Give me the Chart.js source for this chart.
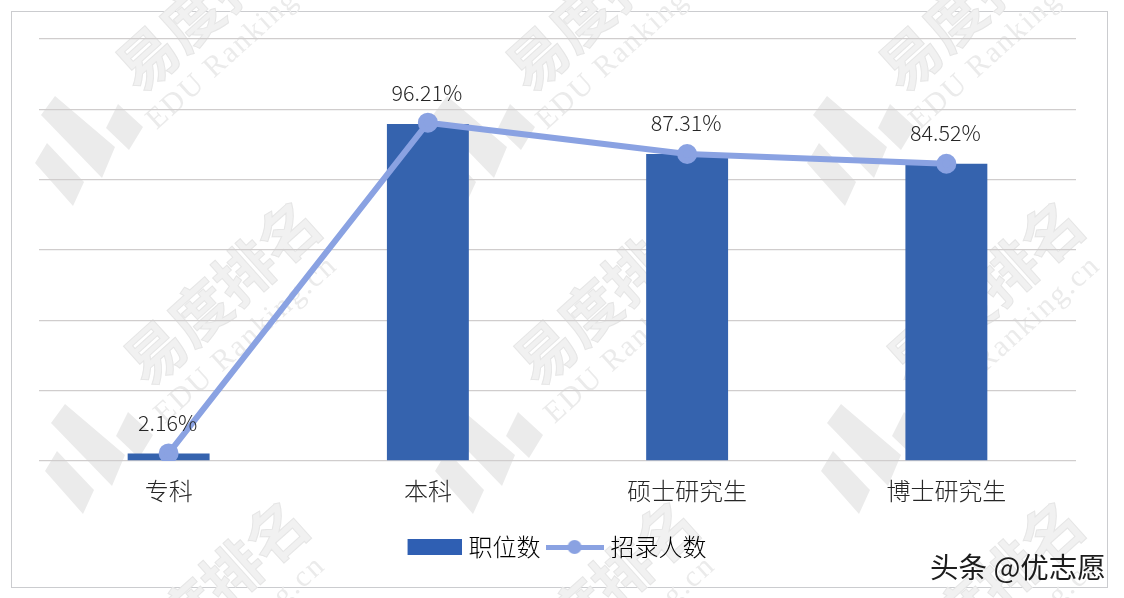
<!DOCTYPE html>
<html>
<head>
<meta charset="utf-8">
<script src="https://cdn.jsdelivr.net/npm/chart.js@4"></script>
<style>
    html, body { margin: 0; padding: 0; background: #fff; overflow: hidden; }
    #wrap { position: relative; width: 1124px; height: 598px; }
    #frame { position: absolute; left: 11px; top: 11px; width: 1095px; height: 575px; border: 1px solid #cbcccf; }
    #chart { position: absolute; left: 0; top: 0; }
    #credit { position: absolute; left: 930px; top: 545px; font: 28.5px "Noto Sans CJK SC", sans-serif; color: #1c1c1c; white-space: nowrap; }
</style>
</head>
<body>
<div id="wrap">
    <div id="frame"></div>
    <canvas id="chart" width="1124" height="598"></canvas>
    <div id="credit">头条 @优志愿</div>
</div>
<script>
const categories = ['专科', '本科', '硕士研究生', '博士研究生'];
const postCounts = [2.1, 95.8, 87.3, 84.5];
const hireRates  = [2.16, 96.21, 87.31, 84.52];
const seriesNames = ['职位数', '招录人数'];

const FONT = '"Noto Sans CJK SC", "Noto Sans", sans-serif';
const BAR_COLOR = '#3563ae';
const LINE_COLOR = '#8aa2e2';

// background watermark tiles
const logoSpots = [[90, 150], [482, 150], [862, 150], [100, 458], [490, 458], [876, 458]];
const nameSpots = [[214, -2], [604, -2], [977, -2], [222, 292], [612, 292], [985, 292], [210, 592], [600, 592], [985, 592]];

function legendSwatch(kind) {
    const c = document.createElement('canvas');
    c.width = 58;
    c.height = 20;
    const ctx = c.getContext('2d');
    if (kind === 'bar') {
        ctx.fillStyle = '#2f5fb3';
        ctx.fillRect(4, 2, 54, 16);
    } else {
        ctx.fillStyle = LINE_COLOR;
        ctx.fillRect(0, 8, 58, 5);
        ctx.beginPath();
        ctx.arc(29, 10, 7, 0, Math.PI * 2);
        ctx.fill();
    }
    return c;
}

const watermarkPlugin = {
    id: 'watermark',
    beforeDraw(chart) {
        const ctx = chart.ctx;
        ctx.save();
        ctx.fillStyle = '#ebebeb';
        logoSpots.forEach(([x, y]) => {
            [
                [[-35, -54], [25, -3], [12, 28], [-49, -35]],
                [[28, -46], [53, -23], [39, 0], [16, -22]],
                [[-43, -7], [-6, 32], [-17, 56], [-55, 13]]
            ].forEach(poly => {
                ctx.beginPath();
                poly.forEach(([px, py], i) => i ? ctx.lineTo(x + px, y + py) : ctx.moveTo(x + px, y + py));
                ctx.closePath();
                ctx.fill();
            });
        });
        ctx.textAlign = 'center';
        ctx.textBaseline = 'middle';
        nameSpots.forEach(([x, y]) => {
            ctx.save();
            ctx.translate(x, y);
            ctx.rotate(-42 * Math.PI / 180);
            ctx.fillStyle = '#f1f1f1';
            ctx.strokeStyle = '#e6e6e6';
            ctx.lineWidth = 1;
            ctx.font = 'bold 60px ' + FONT;
            ctx.fillText('易度排名', 0, 0);
            ctx.strokeText('易度排名', 0, 0);
            ctx.fillStyle = '#ebebeb';
            ctx.font = '30px "Liberation Serif", serif';
            ctx.letterSpacing = '2px';
            ctx.fillText('EDU Ranking.cn', -14, 52);
            ctx.restore();
        });
        ctx.restore();
    }
};

// percent labels above the line points
const rateLabelPlugin = {
    id: 'rateLabels',
    afterDatasetsDraw(chart) {
        const ctx = chart.ctx;
        const points = chart.getDatasetMeta(1).data;
        ctx.save();
        ctx.font = '300 21.5px ' + FONT;
        ctx.fillStyle = '#262626';
        ctx.textAlign = 'center';
        ctx.textBaseline = 'middle';
        points.forEach((p, i) => {
            ctx.fillText(hireRates[i].toFixed(2) + '%', p.x - 1, p.y - 31);
        });
        ctx.restore();
    }
};

new Chart(document.getElementById('chart'), {
    data: {
        labels: categories,
        datasets: [
            {
                type: 'line',
                label: seriesNames[1],
                data: hireRates,
                borderColor: LINE_COLOR,
                backgroundColor: LINE_COLOR,
                borderWidth: 6,
                pointRadius: 7,
                tension: 0,
                order: 1
            },
            {
                type: 'bar',
                label: seriesNames[0],
                data: postCounts,
                backgroundColor: BAR_COLOR,
                barPercentage: 1,
                categoryPercentage: 0.316,
                order: 2
            }
        ]
    },
    options: {
        responsive: false,
        animation: false,
        layout: { padding: { left: 39, right: 48, top: 39, bottom: 29 } },
        plugins: {
            tooltip: { enabled: false },
            legend: {
                position: 'bottom',
                labels: {
                    usePointStyle: true,
                    pointStyleWidth: 48,
                    padding: 10,
                    color: '#262626',
                    font: { family: FONT, size: 24, weight: '300' },
                    generateLabels() {
                        return [
                            { text: seriesNames[0], pointStyle: legendSwatch('bar'), datasetIndex: 1, fillStyle: BAR_COLOR, strokeStyle: BAR_COLOR, lineWidth: 0 },
                            { text: seriesNames[1], pointStyle: legendSwatch('line'), datasetIndex: 0, fillStyle: LINE_COLOR, strokeStyle: LINE_COLOR, lineWidth: 0 }
                        ];
                    }
                }
            }
        },
        scales: {
            x: {
                grid: { display: false },
                border: { display: false },
                ticks: { color: '#262626', padding: 7, font: { family: FONT, size: 24, weight: '300' } },
                afterFit(axis) { axis.height = 64; }
            },
            y: {
                min: 0,
                max: 120,
                ticks: { stepSize: 20, display: false },
                border: { display: false },
                grid: { color: '#d0cdcd', lineWidth: 1.3, drawTicks: false },
                afterFit(axis) { axis.width = 0; }
            }
        }
    },
    plugins: [watermarkPlugin, rateLabelPlugin]
});
</script>
</body>
</html>
